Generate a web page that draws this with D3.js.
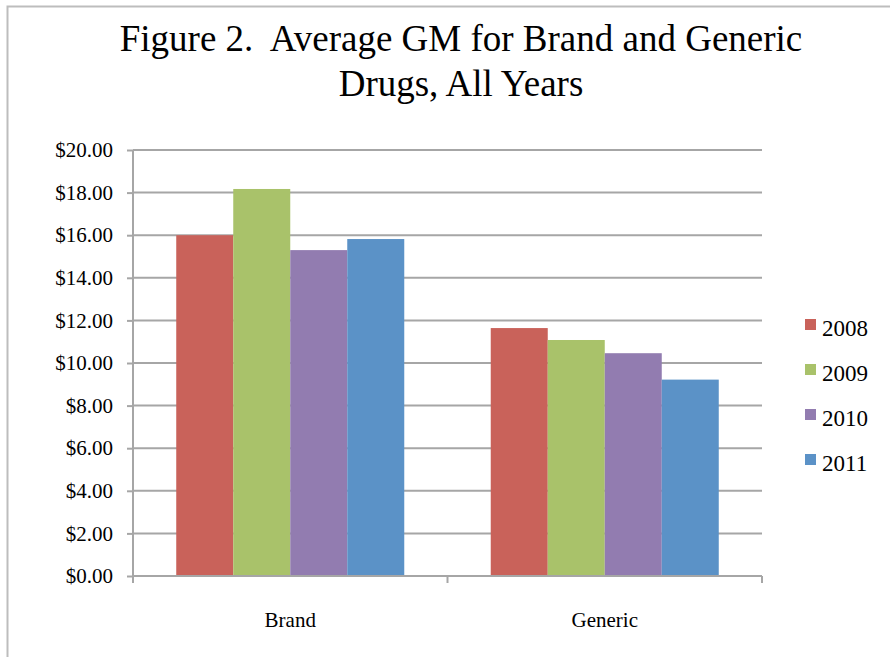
<!DOCTYPE html>
<html>
<head>
<meta charset="utf-8">
<script src="https://cdn.jsdelivr.net/npm/d3@7/dist/d3.min.js"></script>
<style>
  html, body { margin: 0; padding: 0; background: #fff; }
</style>
</head>
<body>
<div id="chart"></div>
<script>
// chart values
const categories = ['Brand', 'Generic']
const years = ['2008', '2009', '2010', '2011']
const brandValues = [16.0, 18.17, 15.3, 15.82]
const genericValues = [11.64, 11.08, 10.46, 9.22]
const yTicks = [0, 2, 4, 6, 8, 10, 12, 14, 16, 18, 20]
const colors = ['#c9625a', '#a9c26a', '#927cb0', '#5b92c7']
const titleLines = ['Figure 2.  Average GM for Brand and Generic', 'Drugs, All Years']

const SERIF = '"Liberation Serif", "Times New Roman", serif'
const W = 890
const H = 657
const margin = { top: 150, left: 133, right: 128, bottom: 81 }
const innerW = W - margin.left - margin.right
const innerH = H - margin.top - margin.bottom

const rows = categories.map((c, i) => ({
  category: c,
  values: [brandValues, genericValues][i]
}))

const svg = d3.select('#chart').append('svg')
  .attr('width', W).attr('height', H)
  .style('font-family', SERIF)

// outer frame (only top and left edges show)
svg.append('path')
  .attr('d', `M7.5,${H} V6.5 H${W}`)
  .attr('fill', 'none')
  .attr('stroke', '#bdbdbd')
  .attr('stroke-width', 2)

// title
svg.append('text')
  .attr('x', 461)
  .attr('y', 51)
  .attr('text-anchor', 'middle')
  .style('font-size', '37px')
  .style('white-space', 'pre')
  .selectAll('tspan')
  .data(titleLines)
  .join('tspan')
  .attr('x', 461)
  .attr('dy', (d, i) => (i === 0 ? 0 : 45))
  .text(d => d)

const g = svg.append('g').attr('transform', `translate(${margin.left},${margin.top})`)

const x0 = d3.scaleBand().domain(categories).range([0, innerW]).padding(0)
const x1 = d3.scaleBand().domain(years).range([0, x0.bandwidth() * 0.725]).padding(0)
const groupOffset = (x0.bandwidth() - x1.range()[1]) / 2
const y = d3.scaleLinear().domain([0, 20]).range([innerH, 0])

// gridlines
g.append('g')
  .selectAll('line')
  .data(yTicks.slice(1))
  .join('line')
  .attr('x1', 0)
  .attr('x2', innerW)
  .attr('y1', d => y(d))
  .attr('y2', d => y(d))
  .attr('stroke', '#a6a6a6')
  .attr('stroke-width', 2)

// bars
g.append('g')
  .selectAll('g')
  .data(rows)
  .join('g')
  .attr('transform', d => `translate(${x0(d.category) + groupOffset},0)`)
  .selectAll('rect')
  .data(d => d.values.map((v, i) => ({ year: years[i], value: v, i })))
  .join('rect')
  .attr('x', d => x1(d.year))
  .attr('y', d => y(d.value))
  .attr('width', x1.bandwidth())
  .attr('height', d => innerH - y(d.value))
  .attr('fill', d => colors[d.i])

// y axis
const yAxis = d3.axisLeft(y).tickValues(yTicks).tickSize(6).tickPadding(14)
  .tickFormat(d => '$' + d3.format('.2f')(d))
const yG = g.append('g').call(yAxis).attr('font-family', null).attr('font-size', null)
yG.select('.domain').attr('stroke', '#a6a6a6').attr('stroke-width', 2).attr('d', `M0,${innerH + 7}V0`)
yG.selectAll('.tick line').attr('stroke', '#a6a6a6').attr('stroke-width', 2)
yG.selectAll('.tick text')
  .style('font-family', SERIF)
  .style('font-size', '21px')
  .attr('fill', '#000')

// x axis
const xG = g.append('g').attr('transform', `translate(0,${innerH})`)
xG.append('line')
  .attr('x1', 0).attr('x2', innerW)
  .attr('stroke', '#a6a6a6').attr('stroke-width', 2)
xG.selectAll('line.tk')
  .data([0, x0.bandwidth(), innerW])
  .join('line')
  .attr('class', 'tk')
  .attr('x1', d => d).attr('x2', d => d)
  .attr('y1', 0).attr('y2', 7)
  .attr('stroke', '#a6a6a6').attr('stroke-width', 2)
xG.selectAll('text')
  .data(categories)
  .join('text')
  .attr('x', d => x0(d) + x0.bandwidth() / 2)
  .attr('y', 51)
  .attr('text-anchor', 'middle')
  .style('font-family', SERIF)
  .style('font-size', '21px')
  .text(d => d)

// legend
const legend = svg.append('g').attr('transform', 'translate(805,328)')
const li = legend.selectAll('g')
  .data(years)
  .join('g')
  .attr('transform', (d, i) => `translate(0,${i * 45})`)
li.append('rect')
  .attr('x', 0).attr('y', -9)
  .attr('width', 11).attr('height', 11)
  .attr('fill', (d, i) => colors[i])
li.append('text')
  .attr('x', 17).attr('y', 8)
  .style('font-family', SERIF)
  .style('font-size', '23px')
  .text(d => d)
</script>
</body>
</html>
